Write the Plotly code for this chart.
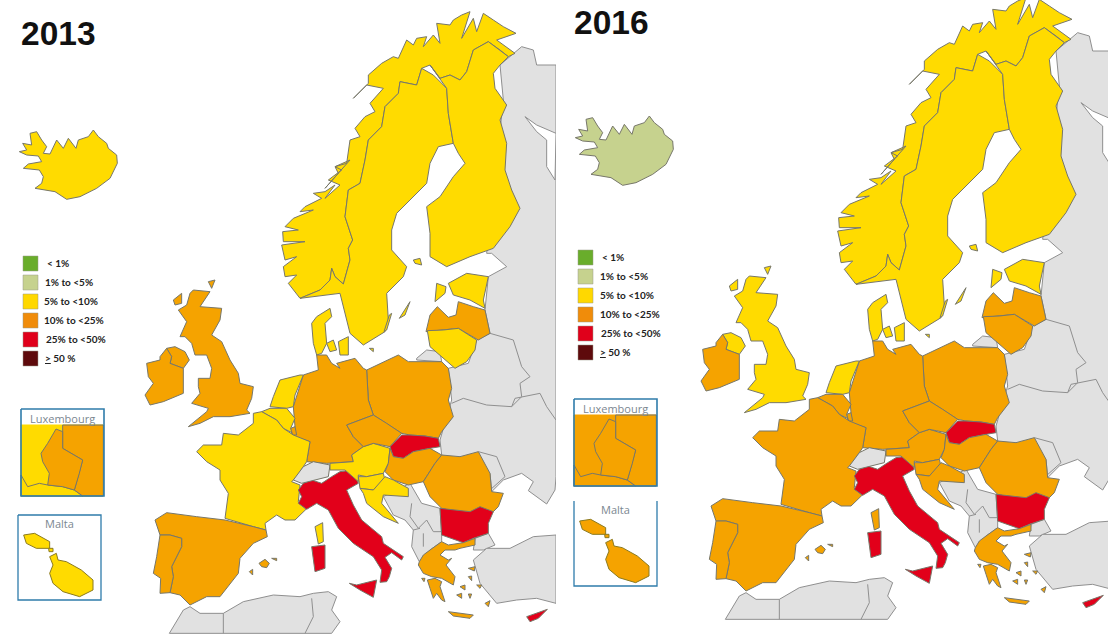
import plotly.graph_objects as go

CATEGORIES = ["< 1%", "1% to <5%", "5% to <10%", "10% to <25%", "25% to <50%", "<u>></u> 50 %"]
CATEGORY_COLORS = ["#69AD2B", "#C6D28E", "#FFDB00", "#F5A300", "#E2001A", "#5E0A0C"]
LEGEND_COLORS = ["#69AD2B", "#C6D28E", "#FFD800", "#F08C0A", "#E0001B", "#5E0A0C"]
YEARS = ["2013", "2016"]
COUNTRIES = ["Iceland","Norway","Sweden","Finland","Estonia","Latvia","Lithuania","Denmark","Poland","Germany","Netherlands",
             "Belgium","Luxembourg","France","Spain","Portugal","Italy","Switzerland","Austria","Czechia","Slovakia","Hungary",
             "Slovenia","Croatia","Romania","Bulgaria","Greece","Cyprus","UK","Ireland","Malta"]
CLASS_2013 = [2,2,2,2,2,3,2,2,3,3,2,2,3,2,3,3,4,-1,2,3,4,3,2,2,3,4,3,4,3,3,2]
CLASS_2016 = [1,2,2,2,2,3,3,2,3,3,2,3,3,3,3,3,4,-1,3,3,4,3,3,3,3,4,3,4,2,3,3]

def Z1(p): return [(270+x/3, y/3) for x,y in p]
def Z2(p): return [(140+x/3, 280+y/3) for x,y in p]
def Z3(p): return [(330+x/3, 300+y/3) for x,y in p]
def Z4(p): return [(140+x/3, 470+y/3) for x,y in p]
def Z7(p): return [(x/3, y/3) for x,y in p]
def Z8(p): return [(280+x/3, 160+y/3) for x,y in p]
def Z9(p): return [(280+x/3, 60+y/3) for x,y in p]

NOR_SWE = Z8([(60,415),(120,390),(150,360),(155,325),(165,350),(190,372),(210,300),(205,265),(218,240),(195,170),(205,90),(240,70),(255,0)])+Z1([(295,420),(335,380),(345,320),(385,280),(390,245),(440,255),(455,205)])

SHAPES = {
"Iceland":[Z7([(58,455),(80,450),(68,430),(95,435),(90,400),(110,395),(125,420),(140,440),(130,460),(150,462),(170,420),(190,445),(205,415),(228,445),(235,420),(265,410),(280,390),(295,410),(320,430),(325,445),(350,465),(352,490),(330,535),(290,565),(240,590),(200,598),(165,575),(130,570),(105,565),(125,550),(130,530),(118,510),(70,505),(85,492),(125,485),(115,468),(80,465)])],
"Norway":[Z8([(60,415),(35,385),(25,370),(50,345),(15,350),(10,320),(50,290),(15,300),(5,255),(75,245),(10,245),(8,215),(55,210),(15,200),(40,175),(100,150),(60,155),(75,140),(125,115),(100,100),(135,95),(165,75),(135,115),(180,75),(145,60),(185,30),(165,20),(210,0)])
          +Z9([(135,385),(175,340),(165,320),(200,310),(210,240),(240,230),(225,205),(255,170),(285,155),(270,130),(310,85),(260,75),(220,115),(265,70),(265,45),(305,10)])
          +Z1([(370,170),(385,175),(410,120),(430,135),(440,115),(470,110),(460,140),(490,105),(510,130),(500,70),(540,75),(550,60),(575,45),(600,35),(575,115),(610,55),(620,95),(640,40),(670,60),(700,80),(738,100),(680,120),(735,160),(715,170),(690,150),(655,125),(610,150),(590,215),(570,240),(540,225),(510,235),(480,195)])
          +NOR_SWE[::-1]],
"Sweden":[NOR_SWE+Z1([(490,225),(530,265),(535,340),(550,430),(505,440),(480,490),(470,550),(430,590),(380,640),(365,690),(365,750),(410,800),(400,830),(350,880),(355,960)])+Z3([(165,95),(100,135),(60,100),(35,0)])+Z8([(180,400)]),
          Z3([(208,55),(240,5),(225,45)]),Z3([(162,95),(178,45),(185,40),(170,90)])],
"Finland":[Z1([(480,195),(510,235),(540,225),(570,240),(590,215),(610,150),(655,125),(690,150),(715,170),(690,195),(670,220),(675,265),(710,315),(690,360),(710,430),(705,510),(725,570),(750,625),(720,680),(670,745),(600,770),(530,800),(480,770),(480,700),(470,620),(510,590),(550,530),(585,490),(565,460),(550,430),(535,340),(530,265)]),Z1([(430,780),(450,775),(455,795),(435,790)])],
"Estonia":[Z1([(535,850),(590,820),(655,830),(640,900),(645,925),(600,900),(550,885)]),Z1([(495,905),(525,880),(528,860),(500,850)])],
"Latvia":[Z3([(288,95),(300,45),(322,20),(355,52),(378,45),(385,5),(430,20),(465,30),(480,100),(445,120),(385,85),(340,90)])],
"Lithuania":[Z3([(292,92),(340,90),(385,85),(440,120),(435,150),(410,185),(375,205),(340,175),(300,140)])],
"Denmark":[Z2([(515,130),(530,110),(570,85),(575,110),(555,130),(560,190),(545,220),(530,225),(520,190)]),Z2([(560,190),(580,180),(590,210),(570,215)]),Z2([(595,185),(625,170),(625,225),(600,225)]),Z3([(118,145),(130,145),(130,155)])],
"Poland":[Z3([(110,210),(165,185),(205,165),(235,185),(335,185),(355,205),(365,265),(355,300),(370,350),(335,395),(325,415),(285,408),(240,405),(215,400),(170,370),(130,345),(115,300)])],
"Germany":[Z2([(530,225),(560,225),(575,250),(600,265)])+Z3([(20,190),(75,175),(100,205),(110,210),(115,300),(130,345),(50,375),(70,410),(100,440),(65,465),(70,485),(0,490)])+Z2([(560,550),(500,545),(510,485),(450,465),(465,440),(460,380),(490,285),(535,270)])],
"Netherlands":[Z2([(420,300),(480,285),(490,285),(465,345),(460,380),(440,385),(390,380),(400,350)])],
"Belgium":[Z2([(365,395),(390,385),(440,385),(465,415),(452,445),(460,460),(430,445),(410,420)])],
"Luxembourg":[Z2([(452,445),(465,440),(470,465),(458,465)])],
"France":[Z2([(340,400),(365,395),(410,420),(430,445),(460,465),(510,485),(500,545),(470,590),(455,605),(480,615)])+Z4([(475,95),(498,118),(465,150),(435,150),(410,135),(375,160),(378,180),(340,170),(255,145),(265,70),(240,30)])+Z2([(240,570),(200,545),(170,515),(190,495),(245,495),(250,460),(295,465),(340,430)]),
          Z4([(525,170),(548,158),(550,215),(535,222)])],
"Spain":[Z4([(45,150),(80,128),(170,140),(255,150),(340,170),(378,180),(382,200),(340,220),(300,265),(295,310),(240,380),(200,380),(150,405),(120,375),(90,368),(100,320),(95,290),(125,230),(125,205),(90,195),(60,195)]),
         Z4([(357,280),(375,268),(388,280),(380,293),(365,290)]),Z4([(328,305),(338,298),(338,315)]),Z4([(395,265),(410,265),(410,272)])],
"Portugal":[Z4([(60,195),(90,195),(125,205),(125,230),(95,290),(100,320),(90,368),(60,370),(62,325),(40,310),(50,260)])],
"Italy":[Z4([(475,60),(490,40),(515,30),(545,40),(575,20),(600,5),(640,0),(655,40),(620,60),(640,105),(665,150),(725,200),(730,220),(790,260),(785,270),(755,248),(735,262),(755,295),(748,320),(740,335),(720,337),(725,300),(700,260),(640,220),(595,175),(565,120),(530,100),(500,118),(475,100),(485,80)]),
         Z4([(628,340),(650,345),(710,330),(705,360),(700,382),(660,360)]),Z4([(515,230),(555,225),(555,295),(525,305)])],
"Switzerland":[Z2([(460,600),(490,560),(520,545),(570,555),(565,590),(520,600),(485,610)])],
"Austria":[Z3([(0,490),(70,485),(65,465),(100,440),(130,430),(180,445),(175,490),(160,520),(110,530),(85,525),(85,545),(45,510),(0,510)])],
"Czechia":[Z3([(50,375),(130,345),(170,370),(215,400),(180,440),(130,430),(100,440),(70,410)])],
"Slovakia":[Z3([(180,440),(215,405),(240,405),(285,408),(325,415),(330,440),(300,445),(250,455),(220,475),(190,470)])],
"Hungary":[Z3([(175,490),(180,445),(190,470),(220,475),(250,455),(300,445),(335,465),(315,490),(280,545),(235,555),(190,540),(165,515)])],
"Slovenia":[Z3([(85,530),(110,530),(160,520),(165,540),(130,570),(90,565)])],
"Croatia":[Z3([(90,565),(130,570),(165,530),(190,540),(235,565),(235,590),(160,585),(155,610),(205,670),(160,650),(110,610),(100,580)])],
"Romania":[Z3([(280,545),(315,490),(335,465),(390,470),(445,455),(480,520),(485,575),(520,580),(505,620),(490,635),(400,640),(335,625),(300,590)])],
"Bulgaria":[Z4([(900,115),(990,125),(1020,110),(1060,125),(1045,160),(1045,190),(1000,205),(970,218),(905,195)])],
"Greece":[Z4([(838,275),(850,255),(870,240),(905,215),(925,225),(970,218),(1005,205),(1005,225),(960,235),(945,240),(915,240),(900,255),(925,270),(935,265),(918,285),(945,320),(940,345),(905,325),(875,320),(850,310),(835,285)]),
          Z4([(862,330),(885,325),(905,335),(900,350),(915,395),(905,390),(890,370),(880,385),(870,355)]),Z4([(925,425),(960,430),(1000,435),(990,445),(940,438)]),Z4([(985,295),(1005,290),(1003,303)]),Z4([(1035,400),(1050,392),(1045,410)]),
          Z4([(960,350),(975,345),(975,360)]),Z4([(1010,345),(1025,345),(1020,355)]),Z4([(950,375),(965,370),(965,385)]),Z4([(985,372),(995,372),(990,385)]),Z4([(985,320),(995,318),(995,332)]),Z4([(845,325),(855,325),(852,335)])],
"Cyprus":[Z4([(1160,440),(1190,430),(1222,418),(1195,445),(1170,455)])],
"UK":[Z2([(160,30),(210,35),(180,80),(245,85),(240,120),(215,165),(245,185),(270,240),(295,280),(300,310),(340,320),(335,355),(320,390),(330,400),(270,410),(220,410),(180,430),(145,440),(200,395),(205,385),(155,370),(180,340),(175,320),(175,295),(210,295),(215,265),(200,225),(165,225),(155,190),(135,170),(120,170),(140,125),(115,90),(140,75),(150,40)]),
      Z2([(80,205),(105,200),(135,215),(148,240),(130,265),(90,250),(95,230)]),Z2([(100,60),(125,40),(125,70),(105,75)]),Z2([(205,5),(225,0),(215,25)])],
"Ireland":[Z2([(20,250),(60,240),(60,230),(80,205),(95,230),(90,250),(130,265),(130,340),(70,365),(30,375),(15,345),(40,310),(25,290)])],
"Malta":[],
}
GRAY_LAND = [
 Z1([(700,300),(690,195),(755,140),(790,150),(800,195),(858,195)])+Z3([(678,530),(675,570),(650,612),(595,572),(610,545),(575,520),(520,540),(485,575),(480,520),(335,465),(330,420),(365,300),(355,205),(415,190),(440,120),(480,100),(465,30)])+Z1([(655,830),(710,800),(665,760),(650,760)]),
 Z3([(260,175),(290,150),(330,155),(335,185),(260,180)]),
 Z4([(730,80),(810,40),(845,100),(900,115),(905,195),(905,215),(870,240),(838,275),(815,230),(820,180),(795,150),(760,135)]),
 Z4([(1005,205),(1045,190),(1065,225),(1030,240),(1000,240)]),
 Z4([(1000,270),(1040,235),(1110,235),(1180,200),(1248,195),(1248,400),(1190,385),(1130,390),(1070,400),(1020,340)]),
 Z4([(88,490),(130,420),(150,410),(180,430),(250,430),(310,395),(400,375),(480,380),(520,370),(565,365),(590,380),(575,420),(600,455),(575,490)]),
]
GRAY_LINES = [
 Z3([(440,120),(480,100),(550,120),(575,200),(600,230),(570,250),(575,290),(545,320),(470,315),(400,295),(365,310)]),
 Z3([(545,320),(555,295),(630,280),(650,320),(678,360)]),
 Z3([(445,455),(500,470),(525,530),(480,570)]),
 Z4([(815,100),(810,140),(835,175),(860,150),(880,185),(905,185)]),Z4([(850,190),(850,230)]),Z4([(820,180),(840,175)]),
 Z4([(515,385),(520,440),(495,490)]),Z4([(250,430),(250,490)]),
]
LAKE = Z1([(765,350),(800,395),(830,420),(830,500),(855,540),(858,400),(800,375)])

LUX_T = lambda p:[((x-65)/3,(y-507)/3) for x,y in p]
INSET_LUX = {
 "Belgium":LUX_T([(65,555),(312,555),(312,768),(65,768)]),
 "France":LUX_T([(65,705),(85,740),(120,730),(145,735),(190,740),(225,750),(250,768),(65,768)]),
 "Germany":LUX_T([(190,555),(312,555),(312,768),(250,768),(225,750),(240,700),(250,660),(190,625)]),
 "Luxembourg":LUX_T([(170,567),(190,575),(190,625),(250,660),(240,700),(225,750),(190,740),(145,735),(150,700),(130,665),(125,640),(145,610)]),
}
MAL_T = lambda p:[((x-55)/3,(y-825)/3) for x,y in p]
INSET_MALTA = [MAL_T([(72,885),(105,880),(150,905),(150,925),(110,925),(80,910)]),
               MAL_T([(147,925),(160,925),(160,935),(148,935)]),
               MAL_T([(150,950),(170,940),(175,960),(200,965),(245,990),(280,1020),(280,1050),(240,1070),(190,1055),(160,1030),(150,1000),(160,975)])]

BORDER = "#77776a"; GRAY = "#E1E1E1"; GRAYLINE = "#8f8f8f"; BOX = "#2F7CAB"
PANELS = [
 dict(year=YEARS[0], cls=CLASS_2013, xa="x", ya="y", dx=0, dy=0, title=(20,33), leg=(23,256), legtext=[46,44,43,43,44.5,44], lux=(21,409), mal=(18,515), maltop=True),
 dict(year=YEARS[1], cls=CLASS_2016, xa="x2", ya="y2", dx=556, dy=-14, title=(573,22), leg=(578,250), legtext=[601,599,598.5,598.5,600,599], lux=(574,399), mal=(574,501), maltop=False),
]
fig = go.Figure()
annotations = []
def poly(p, color, line, P, width=1):
    fig.add_trace(go.Scatter(x=[a for a,b in p]+[p[0][0]], y=[b for a,b in p]+[p[0][1]], mode="lines", fill="toself",
                             fillcolor=color, line=dict(color=line, width=width), xaxis=P["xa"], yaxis=P["ya"],
                             hoverinfo="skip", showlegend=False))
def path(p, color, P, width=1):
    fig.add_trace(go.Scatter(x=[a for a,b in p], y=[b for a,b in p], mode="lines", line=dict(color=color, width=width),
                             xaxis=P["xa"], yaxis=P["ya"], hoverinfo="skip", showlegend=False))
def text(t, x, y, P, size, color, font, anchor="left", weight="normal"):
    annotations.append(dict(text=t, x=x-P["dx"], y=y-P["dy"], xref=P["xa"], yref=P["ya"], showarrow=False, xanchor=anchor,
                            yanchor="middle", borderpad=0, font=dict(size=size, color=color, family=font, weight=weight)))
def col(P, name):
    c = P["cls"][COUNTRIES.index(name)]
    return GRAY if c < 0 else CATEGORY_COLORS[c]

for P in PANELS:
    for g in GRAY_LAND:
        poly(g, GRAY, GRAYLINE, P)
    poly(LAKE, "#FFFFFF", GRAYLINE, P)
    for l in GRAY_LINES:
        path(l, GRAYLINE, P)
    for name in COUNTRIES:
        for g in SHAPES[name]:
            poly(g, col(P,name), BORDER, P)
    lx, ly = P["leg"]
    for i,(lab,c) in enumerate(zip(CATEGORIES, LEGEND_COLORS)):
        y0 = ly+i*19
        poly([(lx-P["dx"],y0-P["dy"]),(lx+15-P["dx"],y0-P["dy"]),(lx+15-P["dx"],y0+15-P["dy"]),(lx-P["dx"],y0+15-P["dy"])], c, "#9a9a8a", P, 0.5)
        text(lab, P["legtext"][i], y0+7, P, 10, "#222222", "Lato, Open Sans, sans-serif", weight="bold")
    bx, by = P["lux"]
    for name in ["Belgium","France","Germany","Luxembourg"]:
        poly([(x+bx-P["dx"], y+by-P["dy"]) for x,y in INSET_LUX[name]], col(P,name), BORDER if name!="Belgium" else col(P,name), P)
    b = [(bx,by),(bx+83,by),(bx+83,by+87),(bx,by+87),(bx,by)]
    path([(x-P["dx"],y-P["dy"]) for x,y in b], BOX, P, 1.6)
    text("Luxembourg", bx+41, by+9, P, 11, "#7b8791", "Open Sans, sans-serif", "center")
    mx, my = P["mal"]
    for g in INSET_MALTA:
        poly([(x+mx-P["dx"], y+my-P["dy"]) for x,y in g], col(P,"Malta"), "#8a7a20", P)
    b = [(mx,my),(mx,my+85),(mx+83,my+85),(mx+83,my)] + ([(mx,my)] if P["maltop"] else [])
    path([(x-P["dx"],y-P["dy"]) for x,y in b], BOX, P, 1.3)
    text("Malta", mx+41, my+8, P, 11, "#7b8791", "Open Sans, sans-serif", "center")
    tx, ty = P["title"]
    text(P["year"], tx, ty, P, 33.5, "#111111", "Liberation Sans", "left", "bold")

axis = dict(visible=False, fixedrange=True)
fig.update_layout(
    width=1119, height=638, autosize=False, margin=dict(l=0,r=0,t=0,b=0), paper_bgcolor="#FFFFFF", plot_bgcolor="rgba(0,0,0,0)",
    showlegend=False, annotations=annotations,
    xaxis=dict(axis, domain=[0,556/1119], range=[0,556]),
    yaxis=dict(axis, domain=[0,1], range=[638,0]),
    xaxis2=dict(axis, domain=[557/1119,1108/1119], range=[1,552]),
    yaxis2=dict(axis, domain=[0,1], range=[652,14]),
)
fig.write_html("out.html", config=dict(displayModeBar=False),
               post_script="document.documentElement.style.overflow='hidden';document.body.style.margin='0';")
